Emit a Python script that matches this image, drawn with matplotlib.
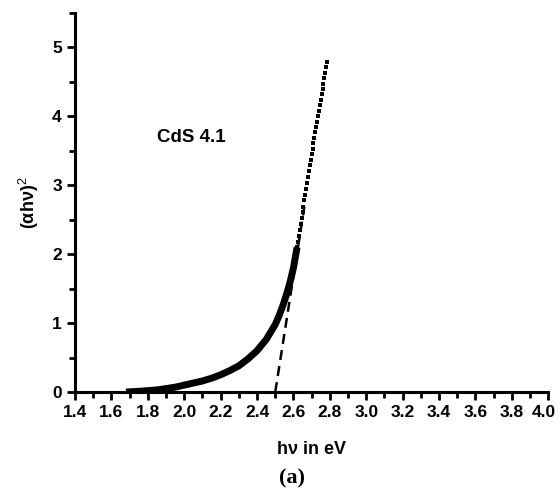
import matplotlib.pyplot as plt
from matplotlib.ticker import MultipleLocator

# lower (dense) part of the curve
x_low = [1.68, 1.75, 1.80, 1.85, 1.90, 1.95, 2.00, 2.05, 2.10, 2.15, 2.20,
         2.25, 2.30, 2.35, 2.40, 2.45, 2.50, 2.52, 2.54, 2.56, 2.58, 2.60,
         2.61, 2.62]
y_low = [0.00, 0.01, 0.02, 0.03, 0.05, 0.07, 0.10, 0.13, 0.16, 0.20, 0.25,
         0.31, 0.38, 0.48, 0.60, 0.76, 0.98, 1.10, 1.24, 1.40, 1.58, 1.80,
         1.95, 2.10]

# upper part where single points are visible
x_up = [2.620, 2.625, 2.630, 2.635, 2.640, 2.645, 2.650, 2.655, 2.660, 2.665,
        2.670, 2.675, 2.680, 2.685, 2.690, 2.695, 2.700, 2.705, 2.710, 2.715,
        2.720, 2.725, 2.730, 2.735, 2.740, 2.745, 2.750, 2.755, 2.760, 2.765,
        2.770, 2.775, 2.780, 2.785]
y_up = [2.10, 2.18, 2.27, 2.35, 2.44, 2.52, 2.61, 2.69, 2.78, 2.86,
        2.95, 3.03, 3.12, 3.20, 3.29, 3.37, 3.45, 3.53, 3.61, 3.69,
        3.77, 3.85, 3.92, 4.00, 4.08, 4.16, 4.24, 4.32, 4.39, 4.47,
        4.55, 4.63, 4.71, 4.79]

# linear fit (tangent) to the band edge
fit_x = [2.50, 2.66]
fit_y = [0.0, 2.69]

x_ticks = [1.4, 1.6, 1.8, 2.0, 2.2, 2.4, 2.6, 2.8, 3.0, 3.2, 3.4, 3.6, 3.8, 4.0]

plt.rcParams['font.family'] = ['Liberation Sans', 'DejaVu Sans']
plt.rcParams['mathtext.fontset'] = 'custom'
plt.rcParams['mathtext.rm'] = 'Liberation Sans'

fig = plt.figure(figsize=(5.6, 4.91), dpi=100)
ax = fig.add_axes([0.134, 0.2016, 0.845, 0.772])

ax.plot(x_low, y_low, color='black', lw=5, solid_capstyle='butt', solid_joinstyle='round')
ax.plot(x_up, y_up, 's', color='black', ms=3.5, mew=0)
ax.plot(fit_x, fit_y, color='black', lw=1.8, dashes=(4, 2.5))

ax.set_xlim(1.4, 4.0)
ax.set_ylim(0, 5.5)
ax.set_xticks(x_ticks)
# last label is drawn separately, a bit left of its tick, so it stays inside the figure
ax.set_xticklabels([f"{v:.1f}" for v in x_ticks[:-1]] + [""])
ax.annotate(f"{x_ticks[-1]:.1f}", xy=(x_ticks[-1], 0), xycoords=('data', 'axes fraction'),
            xytext=(-3, -9.5), textcoords='offset points', ha='center', va='top',
            fontsize=12.5, fontweight='bold')
ax.xaxis.set_minor_locator(MultipleLocator(0.1))
ax.yaxis.set_major_locator(MultipleLocator(1))
ax.yaxis.set_minor_locator(MultipleLocator(0.5))

for s in ['top', 'right']:
    ax.spines[s].set_visible(False)
for s in ['left', 'bottom']:
    ax.spines[s].set_linewidth(2.2)

ax.tick_params(which='major', direction='out', length=5.5, width=2, labelsize=12.5, pad=4)
ax.tick_params(which='minor', direction='out', length=4, width=2)
for lab in ax.get_xticklabels() + ax.get_yticklabels():
    lab.set_fontweight('bold')

ax.set_xlabel("hν in eV", fontsize=13, fontweight='bold', labelpad=15)
ax.set_ylabel("(αhν)$^2$", fontsize=13, fontweight='bold', labelpad=8)

ax.text(1.85, 3.7, "CdS 4.1", fontsize=13.5, fontweight='bold', va='center')

fig.text(292 / 560, 1 - 478 / 491, "(a)", fontsize=16, fontweight='bold',
         family='Liberation Serif', ha='center', va='center')

fig.savefig("out.png", dpi=100)
